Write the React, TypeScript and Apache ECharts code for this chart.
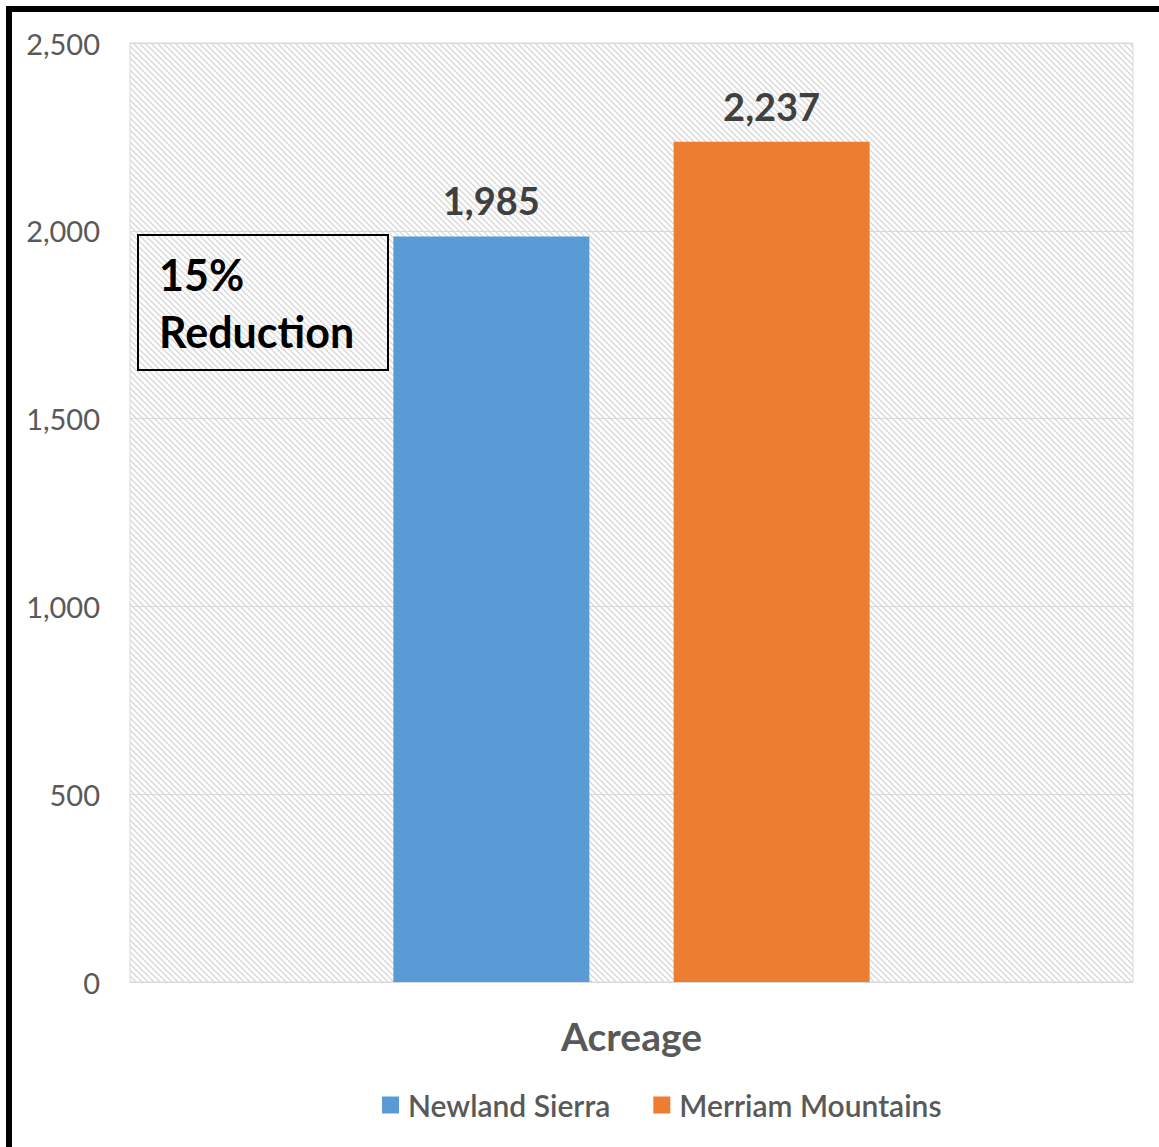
import React, { useEffect, useRef } from "react";
import * as echarts from "echarts";

const categories = ["Acreage"];
const seriesNames = ["Newland Sierra", "Merriam Mountains"];
const seriesValues = [[1985], [2237]];
const seriesColors = ["#5B9BD5", "#ED7D31"];
const yTicks = [0, 500, 1000, 1500, 2000, 2500];
const annotationLines = ["15%", "Reduction"];

const FONT = "Lato, 'Open Sans', sans-serif";

function makePattern(): HTMLCanvasElement {
  const c = document.createElement("canvas");
  const s = 6;
  c.width = s;
  c.height = s;
  const ctx = c.getContext("2d")!;
  ctx.fillStyle = "#ffffff";
  ctx.fillRect(0, 0, s, s);
  ctx.strokeStyle = "#dadada";
  ctx.lineWidth = 1.5;
  ctx.beginPath();
  ctx.moveTo(-1, -1);
  ctx.lineTo(s + 1, s + 1);
  ctx.moveTo(-1, s - 1);
  ctx.lineTo(1, s + 1);
  ctx.moveTo(s - 1, -1);
  ctx.lineTo(s + 1, 1);
  ctx.stroke();
  return c;
}

export default function App() {
  const ref = useRef<HTMLDivElement>(null);
  useEffect(() => {
    if (!ref.current) return;
    const chart = echarts.init(ref.current, null, { renderer: "svg" });
    const pattern = makePattern();
    const fmt = (v: number) => v.toLocaleString("en-US");
    chart.setOption({
      animation: false,
      backgroundColor: "#ffffff",
      grid: {
        left: 130,
        right: 26,
        top: 43,
        bottom: 165,
        show: true,
        backgroundColor: { image: pattern, repeat: "repeat" },
        borderColor: "#d9d9d9",
        borderWidth: 1,
      },
      legend: {
        bottom: 22,
        left: 377,
        itemWidth: 17,
        itemHeight: 17,
        itemGap: 43,
        icon: "rect",
        data: seriesNames,
        textStyle: {
          fontFamily: FONT,
          fontSize: 30,
          color: "#595959",
          fontWeight: 600,
          padding: [0, 0, 0, 4],
        },
      },
      xAxis: {
        type: "category",
        data: categories,
        axisLine: { show: true, lineStyle: { color: "#d9d9d9" } },
        axisTick: { show: false },
        axisLabel: {
          margin: 34,
          fontFamily: FONT,
          fontSize: 39,
          fontWeight: "bold",
          color: "#595959",
        },
      },
      yAxis: {
        type: "value",
        min: yTicks[0],
        max: yTicks[yTicks.length - 1],
        interval: 500,
        axisLine: { show: false },
        axisTick: { show: false },
        splitLine: { show: true, lineStyle: { color: "#d9d9d9", width: 1 } },
        axisLabel: {
          margin: 30,
          fontFamily: FONT,
          fontSize: 29,
          color: "#595959",
          formatter: (v: number) => fmt(v),
        },
      },
      series: seriesNames.map((name, i) => ({
        name,
        type: "bar",
        data: seriesValues[i],
        barWidth: 196,
        barGap: "43%",
        itemStyle: { color: seriesColors[i] },
        label: {
          show: true,
          position: "top",
          distance: 17,
          fontFamily: FONT,
          fontSize: 38,
          fontWeight: "bold",
          color: "#404040",
          formatter: (p: any) => fmt(p.value),
        },
      })),
      graphic: [
        {
          type: "line",
          shape: { x1: 9, y1: 9, x2: 1159, y2: 9 },
          style: { stroke: "#000", lineWidth: 6 },
        },
        {
          type: "line",
          shape: { x1: 9, y1: 6, x2: 9, y2: 1147 },
          style: { stroke: "#000", lineWidth: 6 },
        },
        {
          type: "rect",
          shape: { x: 138, y: 235, width: 250, height: 135 },
          style: { fill: "transparent", stroke: "#000", lineWidth: 2 },
        },
        {
          type: "text",
          x: 159,
          y: 246,
          style: {
            text: annotationLines.join("\n"),
            fontFamily: FONT,
            fontSize: 43,
            fontWeight: "bold",
            fill: "#000",
            lineHeight: 57,
          },
        },
      ],
    });
    return () => chart.dispose();
  }, []);
  return (
    <div
      ref={ref}
      style={{ position: "fixed", left: 0, top: 0, width: 1159, height: 1147 }}
    />
  );
}
